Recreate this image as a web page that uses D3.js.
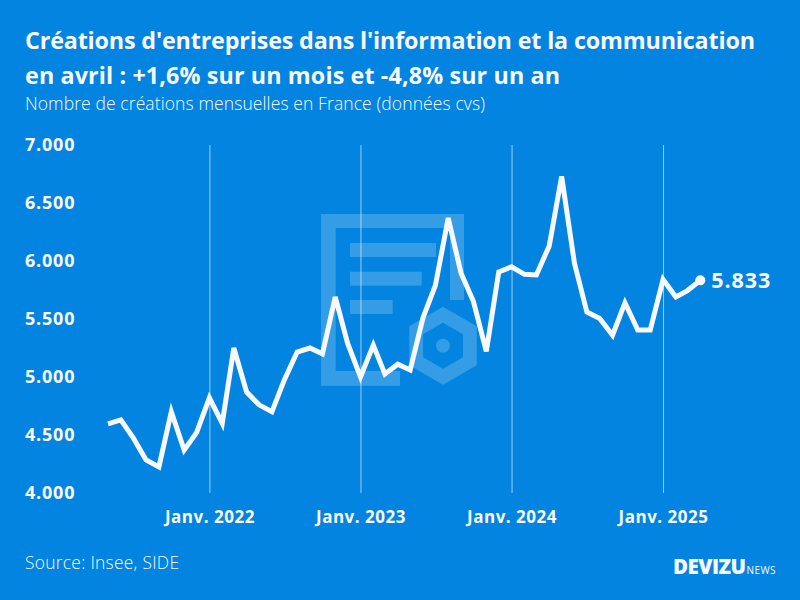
<!DOCTYPE html>
<html lang="fr"><head><meta charset="utf-8">
<script src="https://cdn.jsdelivr.net/npm/d3@7"></script>
<style>html,body{margin:0;padding:0;background:#0384e0}svg{display:block}text{font-family:"Open Sans",Lato,sans-serif;fill:#f8f9ff}</style>
</head><body><svg id="c" width="800" height="600"></svg>
<script>
const startDate = "2021-05-01";
const values = [4595,4630,4475,4285,4225,4700,4370,4520,4820,4600,5250,4870,
  4760,4700,4975,5215,5250,5200,5690,5290,5000,5275,5025,5110,
  5060,5510,5790,6370,5895,5650,5220,5905,5950,5885,5880,6130,
  6730,5980,5560,5505,5360,5640,5405,5405,5840,5690,5745,5833];
const yTicks = [4000,4500,5000,5500,6000,6500,7000];
const xTicks = ["2022-01-01","2023-01-01","2024-01-01","2025-01-01"];
const xLabels = ["Janv. 2022","Janv. 2023","Janv. 2024","Janv. 2025"];
const titleLines = ["Créations d'entreprises dans l'information et la communication","en avril : +1,6% sur un mois et -4,8% sur un an"];
const subtitle = "Nombre de créations mensuelles en France (données cvs)";
const source = "Source: Insee, SIDE";
const lastLabel = "5.833";

const parse = d3.utcParse("%Y-%m-%d");
const dates = values.map((_, i) => d3.utcMonth.offset(parse(startDate), i));
const svg = d3.select("#c");
const x = d3.scaleUtc().domain([dates[0], dates[dates.length-1]]).range([108,700.3]);
const y = d3.scaleLinear().domain([4000,7000]).range([493,145]);

svg.append("rect").attr("width",800).attr("height",600).attr("fill","#0384e0");

// Watermark icon
const icon = svg.append("g").attr("fill","#fff").attr("fill-opacity",0.2);
icon.append("path").attr("fill-rule","evenodd")
  .attr("d","M321 214H464V300H450V228H335.7V371H400V385.7H321Z");
[[350,243,86],[350,271.7,71.7],[350,300,42.7]].forEach(b =>
  icon.append("rect").attr("x",b[0]).attr("y",b[1]).attr("width",b[2]).attr("height",14));
const hex = (r) => d3.range(6).map(i => { const a = Math.PI/3*i; return [443+r*Math.sin(a), 345.7-r*Math.cos(a)]; });
const hexPath = r => "M"+hex(r).map(p=>p.join(" ")).join("L")+"Z";
icon.append("path").attr("fill-rule","evenodd").attr("d",hexPath(39)+hexPath(23));
icon.append("circle").attr("cx",443).attr("cy",345.7).attr("r",7);

// Axes
const gx = svg.append("g").attr("transform","translate(0,493)")
  .call(d3.axisBottom(x).tickValues(xTicks.map(parse)).tickSize(-348).tickPadding(18)
    .tickFormat((d,i)=>xLabels[i]));
gx.select(".domain").remove();
gx.selectAll("line").attr("stroke","#fff").attr("stroke-opacity",0.6).attr("stroke-width",1);
gx.selectAll("text").attr("font-size",17).attr("font-weight",700).style("font-family","'Open Sans'").style("letter-spacing","0.5px");

const gy = svg.append("g").attr("transform","translate(25,0)")
  .call(d3.axisLeft(y).tickValues(yTicks).tickSize(0)
    .tickFormat(d=>d3.format(",")(d).replace(",",".")));
gy.select(".domain").remove();
gy.selectAll("text").attr("x",0).attr("text-anchor","start").attr("font-size",18).attr("font-weight",700).style("font-family","'Open Sans'").style("letter-spacing","0.8px");

// Line
svg.append("path").datum(values)
  .attr("fill","none").attr("stroke","#f8f9ff").attr("stroke-width",5).attr("stroke-linejoin","miter")
  .attr("d",d3.line().x((d,i)=>x(dates[i])).y(d=>y(d)));
const n = values.length-1;
svg.append("circle").attr("cx",x(dates[n])).attr("cy",y(values[n])).attr("r",5).attr("fill","#f8f9ff");
svg.append("text").attr("x",x(dates[n])+11).attr("y",y(values[n])+7.5)
  .attr("font-size",21.5).attr("font-weight",700).style("letter-spacing","0.9px").text(lastLabel);

// Text
titleLines.forEach((t,i)=>svg.append("text").attr("x",25).attr("y",[49,84][i])
  .attr("font-size",23.3).attr("font-weight",700).attr("textLength",[730,535][i]).text(t));
svg.append("text").attr("x",25).attr("y",110).attr("font-size",17.5).attr("font-weight",300).attr("textLength",460).text(subtitle);
svg.append("text").attr("x",25).attr("y",569).attr("font-size",17.4).attr("font-weight",300).attr("textLength",154).text(source);
svg.append("text").attr("x",673).attr("y",574).attr("font-size",20.5).attr("font-weight",800).attr("textLength",73).text("DEVIZU");
svg.append("text").attr("x",746.5).attr("y",574).attr("font-size",10).attr("font-weight",400).attr("textLength",29).text("NEWS");
</script></body></html>
